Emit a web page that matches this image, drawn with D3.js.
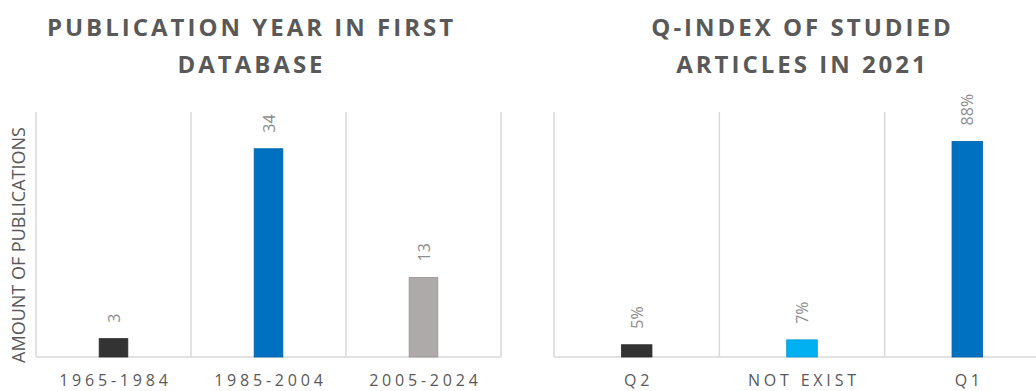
<!DOCTYPE html>
<html>
<head>
<meta charset="utf-8">
<script src="https://cdn.jsdelivr.net/npm/d3@7"></script>
<style>
  html, body { margin: 0; padding: 0; background: #ffffff; }
  svg { display: block; font-family: "Open Sans", "Noto Sans", sans-serif; }
</style>
</head>
<body>
<svg id="chart" width="1036" height="391"></svg>
<script>
// ---- data ----
const yearCategories = ["1965-1984", "1985-2004", "2005-2024"];
const yearValues = [3, 34, 13];
const yearColors = ["#333333", "#0070C0", "#AEAAAA"];
const yearTicks = [0, 40];

const qCategories = ["Q2", "NOT EXIST", "Q1"];
const qValues = [0.05, 0.07, 0.88];
const qColors = ["#333333", "#00B0F0", "#0070C0"];
const qTicks = [0, 1];

const leftTitle = ["PUBLICATION YEAR IN FIRST", "DATABASE"];
const rightTitle = ["Q-INDEX OF STUDIED", "ARTICLES IN 2021"];
const yAxisTitle = "AMOUNT OF PUBLICATIONS";

const svg = d3.select("#chart");
const gridColor = "#d9d9d9";
const textColor = "#595959";
const labelColor = "#8c8c8c";
const baseY = 357, topY = 112;

function drawPanel(cfg) {
  const g = svg.append("g");
  const x = d3.scaleBand().domain(cfg.categories).range(cfg.xRange).padding(0);
  const y = d3.scaleLinear().domain(cfg.domain).range([baseY, topY]);
  const bw = x.bandwidth() * cfg.barFrac;

  // vertical gridlines at band boundaries
  const bounds = cfg.categories.map(c => x(c)).concat([cfg.xRange[1]]);
  g.selectAll("line.grid").data(bounds).enter().append("line")
    .attr("x1", d => d).attr("x2", d => d)
    .attr("y1", y(cfg.domain[1])).attr("y2", baseY)
    .attr("stroke", gridColor).attr("stroke-width", 1.5);

  // baseline
  g.append("line")
    .attr("x1", cfg.xRange[0]).attr("x2", cfg.xRange[1])
    .attr("y1", baseY).attr("y2", baseY)
    .attr("stroke", gridColor).attr("stroke-width", 1.5);

  // bars
  g.selectAll("rect.bar").data(cfg.values).enter().append("rect")
    .attr("x", (d, i) => x(cfg.categories[i]) + x.bandwidth() / 2 - bw / 2)
    .attr("width", bw)
    .attr("y", d => y(d))
    .attr("height", d => baseY - y(d))
    .attr("fill", (d, i) => cfg.colors[i])
    .attr("stroke", (d, i) => d3.color(cfg.colors[i]).darker(0.4))
    .attr("stroke-width", 0.8);

  // value labels (rotated)
  g.selectAll("text.val").data(cfg.values).enter().append("text")
    .attr("transform", (d, i) => {
      const cx = x(cfg.categories[i]) + x.bandwidth() / 2;
      return `translate(${cx + 6},${y(d) - 16}) rotate(-90)`;
    })
    .attr("text-anchor", "start")
    .attr("font-size", 16)
    .attr("fill", labelColor)
    .text(d => cfg.fmt(d));

  // category labels
  g.selectAll("text.cat").data(cfg.categories).enter().append("text")
    .attr("x", d => x(d) + x.bandwidth() / 2 + 1.9)
    .attr("y", 386)
    .attr("text-anchor", "middle")
    .attr("font-size", 16)
    .attr("letter-spacing", "3.8px")
    .attr("fill", textColor)
    .text(d => d);

  // title
  g.selectAll("text.title").data(cfg.title).enter().append("text")
    .attr("x", cfg.titleX + 1.5)
    .attr("y", (d, i) => 36 + i * 37)
    .attr("text-anchor", "middle")
    .attr("font-size", 24)
    .attr("font-weight", "bold")
    .attr("letter-spacing", "3px")
    .attr("fill", textColor)
    .text(d => d);
  return { x, y };
}

drawPanel({
  categories: yearCategories, values: yearValues, colors: yearColors,
  domain: [yearTicks[0], yearTicks[1]], xRange: [36, 501], barFrac: 0.185,
  fmt: d3.format("d"), title: leftTitle, titleX: 250
});

drawPanel({
  categories: qCategories, values: qValues, colors: qColors,
  domain: [qTicks[0], qTicks[1]], xRange: [554, 1050], barFrac: 0.185,
  fmt: d3.format(".0%"), title: rightTitle, titleX: 801
});

// y-axis title
svg.append("text")
  .attr("transform", "translate(25,245) rotate(-90)")
  .attr("text-anchor", "middle")
  .attr("font-size", 18)
  .attr("fill", textColor)
  .text(yAxisTitle);
</script>
</body>
</html>
